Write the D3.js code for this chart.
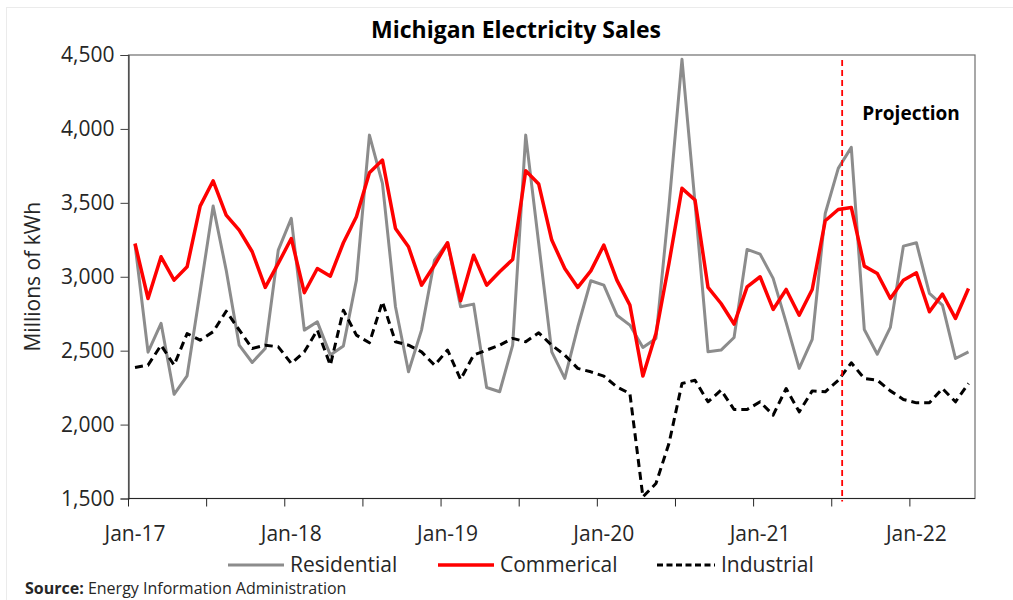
<!DOCTYPE html>
<html>
<head>
<meta charset="utf-8">
<script src="https://cdn.jsdelivr.net/npm/d3@7"></script>
<style>
  body { margin: 0; background: white; }
  text { font-family: "Open Sans", "Noto Sans", sans-serif; }
</style>
</head>
<body>
<script>
// monthly sales, millions of kWh, Jan-17 .. May-22
var months = d3.timeMonth.range(new Date(2017, 0, 1), new Date(2022, 5, 1));
var fmt = d3.timeFormat("%b-%y");
var monthLabels = months.map(fmt);

var residential = [3220, 2490, 2685, 2205, 2330, 2900, 3478, 3045, 2537, 2420,
  2515, 3180, 3395, 2639, 2695, 2470, 2531, 2977, 3958, 3631,
  2797, 2357, 2639, 3113, 3230, 2797, 2815, 2251, 2222, 2537,
  3958, 3225, 2492, 2312, 2660, 2973, 2943, 2740, 2673, 2522,
  2583, 3480, 4471, 3500, 2492, 2504, 2589, 3185, 3153, 2989,
  2690, 2380, 2576, 3428, 3733, 3875, 2643, 2476, 2657, 3207,
  3230, 2887, 2808, 2447, 2492];

var commercial = [3225, 2853, 3135, 2977, 3067, 3478, 3649, 3417, 3316, 3169,
  2928, 3090, 3259, 2892, 3056, 3004, 3230, 3406, 3704, 3789,
  3327, 3203, 2943, 3079, 3230, 2837, 3146, 2943, 3034, 3117,
  3717, 3627, 3248, 3056, 2928, 3040, 3214, 2977, 2808, 2328,
  2616, 3090, 3598, 3519, 2928, 2819, 2680, 2932, 3000, 2779,
  2914, 2740, 2914, 3379, 3455, 3469, 3072, 3022, 2853, 2977,
  3027, 2763, 2883, 2718, 2921];

var industrial = [2386, 2402, 2537, 2402, 2616, 2571, 2628, 2767, 2640, 2515,
  2537, 2526, 2413, 2492, 2639, 2402, 2774, 2605, 2553, 2831,
  2560, 2537, 2492, 2402, 2504, 2305, 2470, 2504, 2537, 2583,
  2560, 2621, 2537, 2470, 2380, 2357, 2328, 2255, 2210, 1511,
  1601, 1872, 2278, 2300, 2154, 2233, 2102, 2102, 2154, 2064,
  2244, 2086, 2228, 2222, 2300, 2418, 2312, 2300, 2228, 2170,
  2147, 2147, 2244, 2154, 2278];

var yTicks = [1500, 2000, 2500, 3000, 3500, 4000, 4500];
var projectionMonth = "Jul-21";

var series = [
  {name: "Residential", values: residential, color: "#8c8c8c", width: 3, dash: null},
  {name: "Commerical", values: commercial, color: "#ff0000", width: 3.5, dash: null},
  {name: "Industrial", values: industrial, color: "#000000", width: 3, dash: "8,5"}
];

var width = 1013, height = 600;
var plotL = 128.5, plotR = 975, plotT = 55, plotB = 498.5;

var svg = d3.select("body").append("svg")
    .attr("width", width)
    .attr("height", height);

// faint outer frame of the chart object
svg.append("rect")
    .attr("x", 6.5).attr("y", 7.5)
    .attr("width", 1020).attr("height", 600)
    .attr("fill", "white")
    .attr("stroke", "#ebebeb");

var x = d3.scaleBand()
    .domain(monthLabels)
    .range([plotL, plotR])
    .padding(0);

var y = d3.scaleLinear()
    .domain([1500, 4500])
    .range([plotB, plotT]);

function cx(i) { return x(monthLabels[i]) + x.bandwidth() / 2; }

// plot area frame
svg.append("rect")
    .attr("x", plotL).attr("y", plotT)
    .attr("width", plotR - plotL).attr("height", plotB - plotT)
    .attr("fill", "none")
    .attr("stroke", "#6e6e6e")
    .attr("stroke-width", 1.2);

// y axis
var yAxis = svg.append("g")
    .attr("transform", "translate(" + plotL + ",0)")
    .call(d3.axisLeft(y).tickValues(yTicks).tickSize(8).tickPadding(6).tickFormat(d3.format(",")));
yAxis.select(".domain").attr("stroke", "#404040").attr("stroke-width", 1.2);
yAxis.selectAll(".tick line").attr("stroke", "#404040");
yAxis.selectAll("text")
    .style("font-size", "21px")
    .attr("fill", "#262626");

// x axis: ticks every six months at the month boundaries
var xAxisG = svg.append("g")
    .attr("transform", "translate(0," + plotB + ")");
xAxisG.append("line")
    .attr("x1", plotL).attr("x2", plotR)
    .attr("stroke", "#262626").attr("stroke-width", 1.2);
xAxisG.selectAll(".tk")
    .data(monthLabels.filter(function(d, i) { return i % 6 == 0; }))
    .enter().append("line")
    .attr("x1", function(d) { return x(d); })
    .attr("x2", function(d) { return x(d); })
    .attr("y1", 0).attr("y2", 8)
    .attr("stroke", "#262626");
xAxisG.selectAll(".lbl")
    .data(monthLabels.filter(function(d, i) { return i % 12 == 0; }))
    .enter().append("text")
    .attr("x", function(d) { return x(d) + x.bandwidth() / 2; })
    .attr("y", 42)
    .attr("text-anchor", "middle")
    .style("font-size", "21px")
    .attr("fill", "#262626")
    .text(function(d) { return d; });

// lines
var line = d3.line()
    .x(function(d, i) { return cx(i); })
    .y(function(d) { return y(d); });

svg.selectAll(".series")
    .data(series)
    .enter().append("path")
    .attr("d", function(s) { return line(s.values); })
    .attr("fill", "none")
    .attr("stroke", function(s) { return s.color; })
    .attr("stroke-width", function(s) { return s.width; })
    .attr("stroke-dasharray", function(s) { return s.dash; })
    .attr("stroke-linejoin", "round");

// projection marker
var px = x(projectionMonth) + x.bandwidth() * 0.8;
svg.append("line")
    .attr("x1", px).attr("x2", px)
    .attr("y1", plotT + 5).attr("y2", plotB + 3)
    .attr("stroke", "#ff0000")
    .attr("stroke-width", 1.8)
    .attr("stroke-dasharray", "6,4");

svg.append("text")
    .attr("x", 911).attr("y", 120)
    .attr("text-anchor", "middle")
    .style("font-size", "19px")
    .style("font-weight", "bold")
    .text("Projection");

// title
svg.append("text")
    .attr("x", 516).attr("y", 38)
    .attr("text-anchor", "middle")
    .style("font-size", "23px")
    .style("font-weight", "bold")
    .text("Michigan Electricity Sales");

// y label
svg.append("text")
    .attr("transform", "translate(40," + ((plotT + plotB) / 2) + ") rotate(-90)")
    .attr("text-anchor", "middle")
    .style("font-size", "21px")
    .attr("fill", "#262626")
    .text("Millions of kWh");

// legend
var legendX = [228, 438, 657];
var lg = svg.selectAll(".leg")
    .data(series)
    .enter().append("g")
    .attr("transform", function(s, i) { return "translate(" + legendX[i] + ",565)"; });
lg.append("line")
    .attr("x1", 0).attr("x2", function(s, i) { return i == 2 ? 58 : 56; })
    .attr("stroke", function(s) { return s.color; })
    .attr("stroke-width", function(s) { return s.width; })
    .attr("stroke-dasharray", function(s) { return s.dash ? "6,3.5" : null; });
lg.append("text")
    .attr("x", function(s, i) { return i == 2 ? 64 : 62; })
    .attr("dy", "0.35em")
    .style("font-size", "21px")
    .attr("fill", "#262626")
    .text(function(s) { return s.name; });

// source
var src = svg.append("text")
    .attr("x", 25).attr("y", 594)
    .style("font-size", "16px")
    .attr("fill", "#262626");
src.append("tspan").style("font-weight", "bold").text("Source:");
src.append("tspan").text(" Energy Information Administration");
</script>
</body>
</html>
